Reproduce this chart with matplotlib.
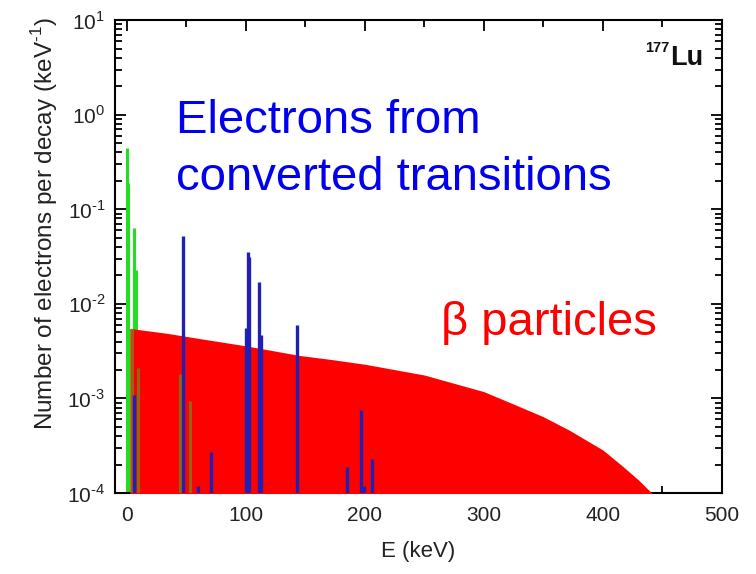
import matplotlib
matplotlib.use("Agg")
from matplotlib import pyplot as plt
from matplotlib.ticker import LogLocator, MultipleLocator, NullFormatter, FuncFormatter
import numpy as np

plt.rcParams['font.family'] = ['Liberation Sans', 'DejaVu Sans']
plt.rcParams['mathtext.fontset'] = 'custom'
plt.rcParams['mathtext.rm'] = 'Liberation Sans'

# beta continuum (keV, electrons per keV per decay)
beta_E = [2.5, 33, 61, 100, 145, 170, 200, 250, 300, 327, 350, 372, 400,
          417, 430, 441, 446]
beta_N = [5.5e-3, 4.9e-3, 4.3e-3, 3.6e-3, 2.85e-3, 2.6e-3, 2.3e-3, 1.77e-3,
          1.18e-3, 8.5e-4, 6.4e-4, 4.6e-4, 2.85e-4, 1.9e-4, 1.37e-4, 1.0e-4, 8e-5]

# Auger / low energy lines (green)
auger_E = [0.3, 1.3, 6.3, 7.8]
auger_N = [0.44, 0.19, 0.063, 0.023]
# faint green lines sitting inside the beta area
auger_low_E = [4.0, 9.5, 44.5, 53.0]
auger_low_N = [5.5e-3, 2.1e-3, 1.8e-3, 9.5e-4]

# conversion electron lines (blue)
ce_E = [6.0, 47.0, 60.0, 71.0, 100.5, 101.5, 103.0, 111.0, 113.0, 143.0,
        185.0, 197.0, 199.0, 206.0]
ce_N = [1.1e-3, 0.052, 1.2e-4, 2.7e-4, 5.5e-3, 0.035, 0.031, 0.017, 4.7e-3,
        6.0e-3, 1.9e-4, 7.6e-4, 1.2e-4, 2.3e-4]


def pow10(v, pos):
    n = int(round(np.log10(v)))
    return r'10$^{\text{%d}}$' % n


fig = plt.figure(figsize=(7.56, 5.74), dpi=100)
ax = fig.add_axes([0.152, 0.141, 0.803, 0.824])

ax.vlines(auger_E, 1e-5, auger_N, color='#22dd22', lw=2.2, zorder=2)
ax.fill_between(beta_E, beta_N, 1e-5, color='#ff0000', lw=0, zorder=3)
ax.vlines(auger_low_E, 1e-5, auger_low_N, color='#22cc22', lw=2.2, alpha=0.5, zorder=4)
ax.vlines(ce_E, 1e-5, ce_N, color='#2020b4', lw=2.4, zorder=5)

ax.set_yscale('log')
ax.set_xlim(-10, 500)
ax.set_ylim(1e-4, 10)

ax.xaxis.set_major_locator(MultipleLocator(100))
ax.xaxis.set_minor_locator(MultipleLocator(50))
ax.yaxis.set_major_locator(LogLocator(base=10, numticks=10))
ax.yaxis.set_major_formatter(FuncFormatter(pow10))
ax.yaxis.set_minor_locator(LogLocator(base=10, subs=np.arange(2, 10), numticks=10))
ax.yaxis.set_minor_formatter(NullFormatter())
ax.tick_params(which='both', direction='in', top=True, right=True,
               labelsize=15, labelcolor='#222222', width=1.3)
ax.tick_params(which='major', length=8)
ax.tick_params(which='minor', length=5)
ax.tick_params(axis='x', pad=9)
ax.tick_params(axis='y', pad=7)
for s in ax.spines.values():
    s.set_linewidth(1.5)

ax.set_xlabel('E (keV)', fontsize=16, color='#222222', labelpad=12)
ax.set_ylabel(r'Number of electrons per decay (keV$^{\text{-1}}$)', fontsize=17.5,
              color='#222222')
ax.yaxis.set_label_coords(-0.09, 0.57)

ax.text(0.100, 0.761, 'Electrons from', transform=ax.transAxes,
        fontsize=34, color='#0000ee', va='baseline', ha='left')
ax.text(0.100, 0.641, 'converted transitions', transform=ax.transAxes,
        fontsize=34, color='#0000ee', va='baseline', ha='left')
ax.text(0.537, 0.334, 'β particles', transform=ax.transAxes,
        fontsize=34, color='#ff0000', va='baseline', ha='left')
ax.text(0.969, 0.905, 'Lu', transform=ax.transAxes, fontsize=19.5,
        fontweight='bold', color='#111111', va='baseline', ha='right')
ax.text(0.914, 0.932, '177', transform=ax.transAxes, fontsize=10.5,
        fontweight='bold', color='#111111', va='baseline', ha='right')

plt.savefig('out.png', dpi=100)
